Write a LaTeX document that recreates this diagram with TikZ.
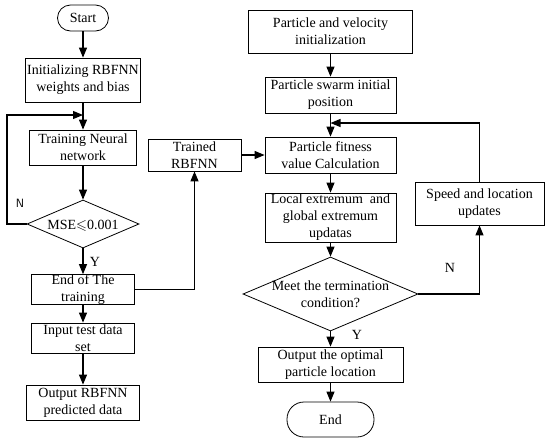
\documentclass[tikz,border=0pt]{standalone}
\usepackage{fontspec}
\setmainfont{Liberation Serif}
\usepackage{amssymb}
\usetikzlibrary{arrows.meta,shapes.geometric}
\begin{document}
\begin{tikzpicture}[x=1pt,y=-1pt,
  every node/.style={font=\fontsize{14}{17}\selectfont},
  box/.style={draw,line width=0.8pt,rectangle,align=center,inner sep=0pt},
  term/.style={box,rounded corners=13pt},
  arr/.style={line width=1.1pt,-{Triangle[length=10pt,width=8pt]}},
  ln/.style={line width=1.1pt},
  lab/.style={font=\fontsize{14}{17}\selectfont}]
\useasboundingbox (0,0) rectangle (550,445);
% left column
\node[term,minimum width=51pt,minimum height=26pt] (start) at (83,18) {Start};
\node[box,minimum width=115pt,minimum height=44pt] (init) at (83,80) {Initializing RBFNN\\weights and bias};
\node[box,minimum width=107pt,minimum height=35pt] (train) at (83,147.5) {Training Neural\\network};
\node[draw,line width=0.8pt,diamond,minimum width=112pt,minimum height=48pt,inner sep=0pt] (mse) at (83,224) {};
\node at (83,226) {MSE$\leqslant$0.001};
\node[box,minimum width=103pt,minimum height=29pt] (endt) at (83,289.5) {End of The\\training};
\node[box,minimum width=103pt,minimum height=30pt] (input) at (83,338) {Input test data\\set};
\node[box,minimum width=113pt,minimum height=35pt] (outp) at (83,402.5) {Output RBFNN\\predicted data};
\node[box,minimum width=93pt,minimum height=32pt] (trained) at (194.5,155) {Trained\\RBFNN};
% right column
\node[box,minimum width=164pt,minimum height=43pt] (pvi) at (330.5,31.5) {Particle and velocity\\initialization};
\node[box,minimum width=131pt,minimum height=36pt] (swarm) at (330.5,95) {Particle swarm initial\\position};
\node[box,minimum width=131pt,minimum height=36pt] (fit) at (330.5,155) {Particle fitness\\value Calculation};
\node[box,minimum width=131pt,minimum height=49pt] (local) at (330.5,217.5) {Local extremum\ \ and\\global extremum\\updatas};
\node[draw,line width=0.8pt,diamond,minimum width=175pt,minimum height=74pt,inner sep=0pt] (term) at (330.5,294) {};
\node[align=center] at (330.5,294) {Meet the termination\\condition?};
\node[box,minimum width=145pt,minimum height=35pt] (opt) at (330.5,364.5) {Output the optimal\\particle location};
\node[term,rounded corners=17pt,minimum width=87pt,minimum height=35pt] (end) at (330.5,419.5) {End};
\node[box,minimum width=129pt,minimum height=43pt] (speed) at (479.5,203.5) {Speed and location\\updates};
\coordinate (j1) at (83,115);
\coordinate (j2) at (330.5,123);
% connectors left
\draw[arr] (start) -- (init);
\draw[arr] (init) -- (train);
\draw[arr] (train) -- (mse);
\draw[ln] (mse.west) -- (7,224) -- (7,115) -- (55,115);
\draw[arr] (55,115) -- (j1);
\draw[arr] (mse) -- (endt);
\draw[arr] (endt) -- (input);
\draw[arr] (input) -- (outp);
\draw[arr] (endt.east) -| (trained.south);
\draw[arr] (trained) -- (fit);
% connectors right
\draw[arr] (pvi) -- (swarm);
\draw[arr] (swarm) -- (fit);
\draw[arr] (speed.north) |- (j2);
\draw[arr] (fit) -- (local);
\draw[arr] (local) -- (term);
\draw[arr] (term.east) -| (speed.south);
\draw[arr] (term) -- (opt);
\draw[arr] (opt) -- (end);
% labels
\node[font=\sffamily\fontsize{12}{14}\selectfont] at (20,203) {N};
\node[lab] at (95,262) {Y};
\node[lab] at (450,268) {N};
\node[lab] at (357,335) {Y};
\end{tikzpicture}
\end{document}
